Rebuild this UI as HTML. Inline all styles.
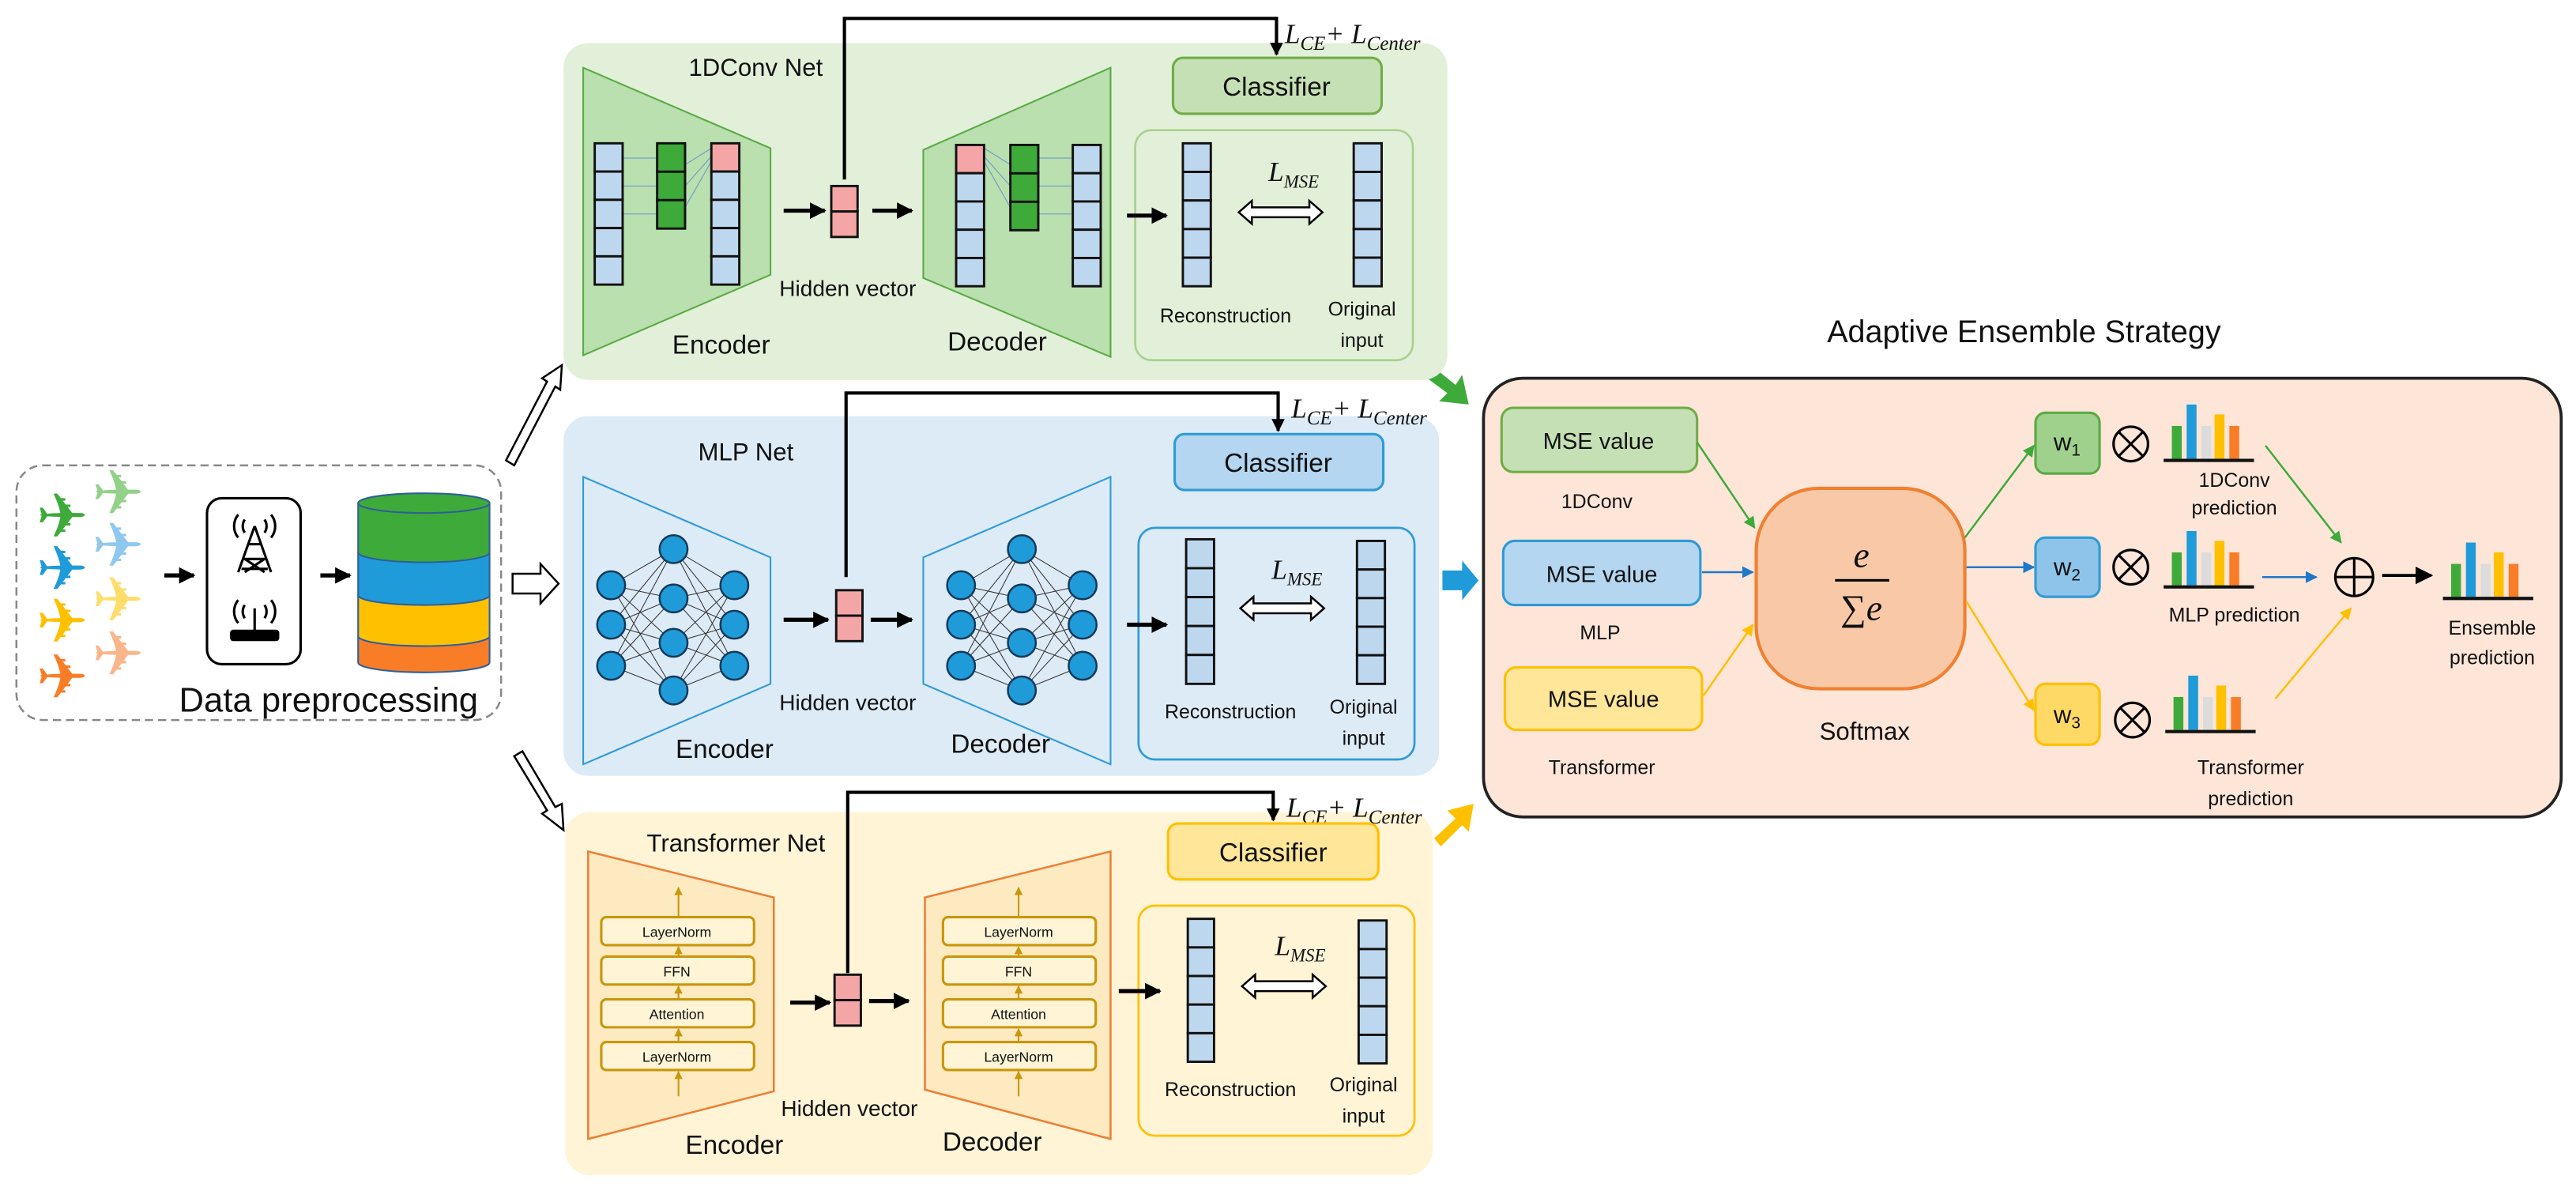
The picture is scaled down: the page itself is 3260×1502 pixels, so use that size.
<!DOCTYPE html>
<html><head><meta charset="utf-8"><style>
html,body{margin:0;padding:0;background:#fff}
svg{display:block}
text{font-family:"Liberation Sans","DejaVu Sans",sans-serif;fill:#111}
.it{font-family:"Liberation Serif",serif;font-style:italic}
</style></head><body>
<svg width="3260" height="1502" viewBox="0 0 1568 722" xmlns="http://www.w3.org/2000/svg">
<defs>
<marker id="ab" viewBox="0 0 10 10" refX="9" refY="5" markerWidth="4" markerHeight="4" orient="auto"><path d="M0,0L10,5L0,10z" fill="#000"/></marker>
<marker id="ag" viewBox="0 0 10 10" refX="9" refY="5" markerWidth="6" markerHeight="6" orient="auto"><path d="M0,0L10,5L0,10z" fill="#3daa3a"/></marker>
<marker id="au" viewBox="0 0 10 10" refX="9" refY="5" markerWidth="6" markerHeight="6" orient="auto"><path d="M0,0L10,5L0,10z" fill="#1f77c9"/></marker>
<marker id="ay" viewBox="0 0 10 10" refX="9" refY="5" markerWidth="6" markerHeight="6" orient="auto"><path d="M0,0L10,5L0,10z" fill="#ffc000"/></marker>
<marker id="ak" viewBox="0 0 10 10" refX="9" refY="5" markerWidth="6" markerHeight="6" orient="auto"><path d="M0,0L10,5L0,10z" fill="#000"/></marker>
<marker id="ao" viewBox="0 0 10 10" refX="9" refY="5" markerWidth="5" markerHeight="5" orient="auto"><path d="M0,0L10,5L0,10z" fill="#c9960c"/></marker>
</defs>

<!-- Data preprocessing -->
<rect x="10" y="283" width="295" height="155" rx="16" fill="none" stroke="#888" stroke-width="1.2" stroke-dasharray="5,3"/>
<g font-size="38">
<text x="22" y="327" style="fill:#3daa3a">✈</text>
<text x="22" y="359" style="fill:#1f9bd9">✈</text>
<text x="22" y="391" style="fill:#ffc000">✈</text>
<text x="22" y="425" style="fill:#f97d27">✈</text>
<text x="56" y="313" style="fill:#93d18a">✈</text>
<text x="56" y="345" style="fill:#8fc8ee">✈</text>
<text x="56" y="378" style="fill:#ffdd6b">✈</text>
<text x="56" y="411" style="fill:#fbb58a">✈</text>
</g>
<line x1="100" y1="350" x2="118" y2="350" stroke="#000" stroke-width="2.5" marker-end="url(#ab)"/>
<rect x="126" y="303" width="57" height="101" rx="9" fill="#fff" stroke="#000" stroke-width="1.5"/>
<g stroke="#000" stroke-width="1.5" fill="none">
<path d="M155,320 L145,348 M155,320 L165,348 M148,340 L162,340 M151,331 L159,331 M147,346 L163,346 M149,340 L161,348 M161,340 L149,348"/>
<path d="M149,316 a7,7 0 0 0 0,8 M161,316 a7,7 0 0 1 0,8 M145,313 a11,11 0 0 0 0,14 M165,313 a11,11 0 0 1 0,14"/>
<path d="M155,370 L155,384 M149,368 a7,7 0 0 0 0,8 M161,368 a7,7 0 0 1 0,8 M145,365 a11,11 0 0 0 0,14 M165,365 a11,11 0 0 1 0,14"/>
</g>
<rect x="140" y="383" width="30" height="7" rx="2" fill="#000"/>
<line x1="195" y1="350" x2="213" y2="350" stroke="#000" stroke-width="2.5" marker-end="url(#ab)"/>
<!-- database -->
<path d="M218,387 L218,403 A40,6 0 0 0 298,403 L298,387 z" fill="#f97d27" stroke="#2e5f9a" stroke-width="1"/>
<path d="M218,362 L218,387 A40,6 0 0 0 298,387 L298,362 z" fill="#ffc000" stroke="#2e5f9a" stroke-width="1"/>
<path d="M218,336 L218,362 A40,6 0 0 0 298,362 L298,336 z" fill="#1f9bd9" stroke="#2e5f9a" stroke-width="1"/>
<path d="M218,306 L218,336 A40,6 0 0 0 298,336 L298,306 z" fill="#3daa3a" stroke="#2e5f9a" stroke-width="1"/>
<ellipse cx="258" cy="306" rx="40" ry="6" fill="#3daa3a" stroke="#2e5f9a" stroke-width="1"/>
<text x="200" y="433" font-size="21" text-anchor="middle">Data preprocessing</text>

<!-- hollow arrows -->
<g fill="#fff" stroke="#000" stroke-width="1.2">
<path d="M308,280 L333,232 L330,230 L342,222 L341,237 L338,235 L313,283 z"/>
<path d="M312,349 L329,349 L329,343 L340,355 L329,367 L329,361 L312,361 z"/>
<path d="M313,460 L333,493 L330,495 L343,505 L342,489 L338,491 L318,457 z"/>
</g>

<!-- colored arrows to ensemble -->
<path d="M871,222 L886,234 L890,228 L894,246 L876,244 L881,239 L866,228 z" fill="#3daa3a"/>
<path d="M878,347 L890,347 L890,341 L900,353 L890,365 L890,359 L878,359 z" fill="#1f9bd9"/>
<path d="M873,510 L886,498 L881,493 L897,489 L894,506 L890,502 L877,515 z" fill="#ffc000"/>

<!-- ===== 1DConv panel ===== -->
<rect x="343" y="26" width="538" height="205" rx="15" fill="#e2f0d9"/>
<text x="460" y="46" font-size="15" text-anchor="middle">1DConv Net</text>
<polygon points="355,41 469,90 469,167 355,216" fill="#b9e0ae" stroke="#5aaa44" stroke-width="1"/>
<polygon points="562,91 676,41 676,217 562,169" fill="#b9e0ae" stroke="#5aaa44" stroke-width="1"/>
<g stroke="#7aa0c8" stroke-width="0.6">
<line x1="379" y1="96" x2="400" y2="96"/><line x1="379" y1="113" x2="400" y2="113"/><line x1="379" y1="130" x2="400" y2="130"/>
<line x1="417" y1="100" x2="433" y2="90"/><line x1="417" y1="113" x2="433" y2="95"/><line x1="417" y1="126" x2="433" y2="98"/>
<line x1="599" y1="90" x2="615" y2="100"/><line x1="599" y1="95" x2="615" y2="113"/><line x1="599" y1="98" x2="615" y2="126"/>
<line x1="632" y1="96" x2="653" y2="96"/><line x1="632" y1="113" x2="653" y2="113"/><line x1="632" y1="130" x2="653" y2="130"/>
</g>
<g stroke="#111" stroke-width="1.4">
<g fill="#bdd7ee"><rect x="362" y="87" width="17" height="17.2"/><rect x="362" y="104.2" width="17" height="17.2"/><rect x="362" y="121.4" width="17" height="17.2"/><rect x="362" y="138.6" width="17" height="17.2"/><rect x="362" y="155.8" width="17" height="17.2"/></g>
<g fill="#3daa3a"><rect x="400" y="87" width="17" height="17.3"/><rect x="400" y="104.3" width="17" height="17.3"/><rect x="400" y="121.6" width="17" height="17.3"/></g>
<g fill="#bdd7ee"><rect x="433" y="87" width="17" height="17.2" fill="#f4a6a6"/><rect x="433" y="104.2" width="17" height="17.2"/><rect x="433" y="121.4" width="17" height="17.2"/><rect x="433" y="138.6" width="17" height="17.2"/><rect x="433" y="155.8" width="17" height="17.2"/></g>
<g fill="#bdd7ee"><rect x="582" y="88" width="17" height="17.2" fill="#f4a6a6"/><rect x="582" y="105.2" width="17" height="17.2"/><rect x="582" y="122.4" width="17" height="17.2"/><rect x="582" y="139.6" width="17" height="17.2"/><rect x="582" y="156.8" width="17" height="17.2"/></g>
<g fill="#3daa3a"><rect x="615" y="88" width="17" height="17.3"/><rect x="615" y="105.3" width="17" height="17.3"/><rect x="615" y="122.6" width="17" height="17.3"/></g>
<g fill="#bdd7ee"><rect x="653" y="88" width="17" height="17.2"/><rect x="653" y="105.2" width="17" height="17.2"/><rect x="653" y="122.4" width="17" height="17.2"/><rect x="653" y="139.6" width="17" height="17.2"/><rect x="653" y="156.8" width="17" height="17.2"/></g>
<g fill="#f4a6a6"><rect x="506" y="113" width="16" height="15.5"/><rect x="506" y="128.5" width="16" height="15.5"/></g>
<g fill="#bdd7ee"><rect x="720" y="87" width="17" height="17.4"/><rect x="720" y="104.4" width="17" height="17.4"/><rect x="720" y="121.8" width="17" height="17.4"/><rect x="720" y="139.2" width="17" height="17.4"/><rect x="720" y="156.6" width="17" height="17.4"/></g>
<g fill="#bdd7ee"><rect x="824" y="87" width="17" height="17.4"/><rect x="824" y="104.4" width="17" height="17.4"/><rect x="824" y="121.8" width="17" height="17.4"/><rect x="824" y="139.2" width="17" height="17.4"/><rect x="824" y="156.6" width="17" height="17.4"/></g>
</g>
<line x1="477" y1="128" x2="502" y2="128" stroke="#000" stroke-width="2.5" marker-end="url(#ab)"/>
<line x1="531" y1="128" x2="555" y2="128" stroke="#000" stroke-width="2.5" marker-end="url(#ab)"/>
<text x="516" y="180" font-size="13.5" text-anchor="middle">Hidden vector</text>
<text x="439" y="215" font-size="16" text-anchor="middle">Encoder</text>
<text x="607" y="213" font-size="16" text-anchor="middle">Decoder</text>
<polyline points="514,109 514,11 777,11 777,33" fill="none" stroke="#000" stroke-width="2" marker-end="url(#ab)"/>
<text x="782" y="26" font-size="17" class="it">L<tspan font-size="12" dy="4">CE</tspan><tspan dy="-4">+ L</tspan><tspan font-size="12" dy="4">Center</tspan></text>
<rect x="714" y="35" width="127" height="34" rx="6" fill="#c5e0b4" stroke="#70ad47" stroke-width="1.5"/>
<text x="777" y="58" font-size="16" text-anchor="middle">Classifier</text>
<rect x="691" y="79" width="169" height="140" rx="10" fill="none" stroke="#a9d18e" stroke-width="1.3"/>
<line x1="686" y1="131" x2="710" y2="131" stroke="#000" stroke-width="2.5" marker-end="url(#ab)"/>
<text x="772" y="110" font-size="17" class="it">L<tspan font-size="11" dy="4">MSE</tspan></text>
<path d="M754,129 L762,122 L762,126 L797,126 L797,122 L805,129 L797,136 L797,132 L762,132 L762,136 z" fill="#fff" stroke="#000" stroke-width="1.2"/>
<text x="746" y="196" font-size="12" text-anchor="middle">Reconstruction</text>
<text x="829" y="192" font-size="12" text-anchor="middle">Original</text>
<text x="829" y="211" font-size="12" text-anchor="middle">input</text>

<!-- ===== MLP panel ===== -->
<rect x="343" y="253" width="533" height="219" rx="15" fill="#ddebf7"/>
<text x="454" y="280" font-size="15" text-anchor="middle">MLP Net</text>
<polygon points="355,290 469,339 469,416 355,465" fill="#ddebf7" stroke="#2e9bd6" stroke-width="1"/>
<polygon points="562,339 676,290 676,465 562,416" fill="#ddebf7" stroke="#2e9bd6" stroke-width="1"/>
<g stroke="#333" stroke-width="0.5">
<path d="M372,356L410,334M372,356L410,364M372,356L410,391M372,356L410,420M372,380L410,334M372,380L410,364M372,380L410,391M372,380L410,420M372,405L410,334M372,405L410,364M372,405L410,391M372,405L410,420"/>
<path d="M447,356L410,334M447,356L410,364M447,356L410,391M447,356L410,420M447,380L410,334M447,380L410,364M447,380L410,391M447,380L410,420M447,405L410,334M447,405L410,364M447,405L410,391M447,405L410,420"/>
<path d="M585,356L622,334M585,356L622,364M585,356L622,391M585,356L622,420M585,380L622,334M585,380L622,364M585,380L622,391M585,380L622,420M585,405L622,334M585,405L622,364M585,405L622,391M585,405L622,420"/>
<path d="M659,356L622,334M659,356L622,364M659,356L622,391M659,356L622,420M659,380L622,334M659,380L622,364M659,380L622,391M659,380L622,420M659,405L622,334M659,405L622,364M659,405L622,391M659,405L622,420"/>
</g>
<g fill="#1f9bd9" stroke="#153a5a" stroke-width="1.2">
<circle cx="372" cy="356" r="8.5"/><circle cx="372" cy="380" r="8.5"/><circle cx="372" cy="405" r="8.5"/>
<circle cx="410" cy="334" r="8.5"/><circle cx="410" cy="364" r="8.5"/><circle cx="410" cy="391" r="8.5"/><circle cx="410" cy="420" r="8.5"/>
<circle cx="447" cy="356" r="8.5"/><circle cx="447" cy="380" r="8.5"/><circle cx="447" cy="405" r="8.5"/>
<circle cx="585" cy="356" r="8.5"/><circle cx="585" cy="380" r="8.5"/><circle cx="585" cy="405" r="8.5"/>
<circle cx="622" cy="334" r="8.5"/><circle cx="622" cy="364" r="8.5"/><circle cx="622" cy="391" r="8.5"/><circle cx="622" cy="420" r="8.5"/>
<circle cx="659" cy="356" r="8.5"/><circle cx="659" cy="380" r="8.5"/><circle cx="659" cy="405" r="8.5"/>
</g>
<g stroke="#111" stroke-width="1.4">
<g fill="#f4a6a6"><rect x="509" y="359" width="16" height="15.5"/><rect x="509" y="374.5" width="16" height="15.5"/></g>
<g fill="#bdd7ee"><rect x="722" y="328" width="17" height="17.6"/><rect x="722" y="345.6" width="17" height="17.6"/><rect x="722" y="363.2" width="17" height="17.6"/><rect x="722" y="380.8" width="17" height="17.6"/><rect x="722" y="398.4" width="17" height="17.6"/></g>
<g fill="#bdd7ee"><rect x="826" y="329" width="17" height="17.4"/><rect x="826" y="346.4" width="17" height="17.4"/><rect x="826" y="363.8" width="17" height="17.4"/><rect x="826" y="381.2" width="17" height="17.4"/><rect x="826" y="398.6" width="17" height="17.4"/></g>
</g>
<line x1="477" y1="377" x2="504" y2="377" stroke="#000" stroke-width="2.5" marker-end="url(#ab)"/>
<line x1="530" y1="377" x2="555" y2="377" stroke="#000" stroke-width="2.5" marker-end="url(#ab)"/>
<text x="516" y="432" font-size="13.5" text-anchor="middle">Hidden vector</text>
<text x="441" y="461" font-size="16" text-anchor="middle">Encoder</text>
<text x="609" y="458" font-size="16" text-anchor="middle">Decoder</text>
<polyline points="515,351 515,239 778,239 778,262" fill="none" stroke="#000" stroke-width="2" marker-end="url(#ab)"/>
<text x="786" y="254" font-size="17" class="it">L<tspan font-size="12" dy="4">CE</tspan><tspan dy="-4">+ L</tspan><tspan font-size="12" dy="4">Center</tspan></text>
<rect x="715" y="264" width="127" height="34" rx="6" fill="#b4d6f0" stroke="#2e9bd6" stroke-width="1.5"/>
<text x="778" y="287" font-size="16" text-anchor="middle">Classifier</text>
<rect x="693" y="321" width="168" height="141" rx="10" fill="none" stroke="#2e9bd6" stroke-width="1.3"/>
<line x1="686" y1="380" x2="710" y2="380" stroke="#000" stroke-width="2.5" marker-end="url(#ab)"/>
<text x="774" y="352" font-size="17" class="it">L<tspan font-size="11" dy="4">MSE</tspan></text>
<path d="M755,370 L763,363 L763,367 L798,367 L798,363 L806,370 L798,377 L798,373 L763,373 L763,377 z" fill="#fff" stroke="#000" stroke-width="1.2"/>
<text x="749" y="437" font-size="12" text-anchor="middle">Reconstruction</text>
<text x="830" y="434" font-size="12" text-anchor="middle">Original</text>
<text x="830" y="453" font-size="12" text-anchor="middle">input</text>

<!-- ===== Transformer panel ===== -->
<rect x="344" y="494" width="528" height="221" rx="15" fill="#fff4d6"/>
<text x="448" y="518" font-size="15" text-anchor="middle">Transformer Net</text>
<polygon points="358,518 471,546 471,664 358,693" fill="#fdeac0" stroke="#ed7d31" stroke-width="1.2"/>
<polygon points="563,546 676,518 676,693 563,663" fill="#fdeac0" stroke="#ed7d31" stroke-width="1.2"/>
<g stroke="#c9960c" stroke-width="1">
<line x1="413" y1="667" x2="413" y2="652" marker-end="url(#ao)"/><line x1="413" y1="634" x2="413" y2="626" marker-end="url(#ao)"/>
<line x1="413" y1="608" x2="413" y2="600" marker-end="url(#ao)"/><line x1="413" y1="582" x2="413" y2="576" marker-end="url(#ao)"/>
<line x1="413" y1="558" x2="413" y2="540" marker-end="url(#ao)"/>
<line x1="620" y1="667" x2="620" y2="652" marker-end="url(#ao)"/><line x1="620" y1="634" x2="620" y2="626" marker-end="url(#ao)"/>
<line x1="620" y1="608" x2="620" y2="600" marker-end="url(#ao)"/><line x1="620" y1="582" x2="620" y2="576" marker-end="url(#ao)"/>
<line x1="620" y1="558" x2="620" y2="540" marker-end="url(#ao)"/>
</g>
<g fill="#fff4d6" stroke="#c9960c" stroke-width="1.5">
<rect x="366" y="558" width="93" height="17" rx="3"/><rect x="366" y="582" width="93" height="17" rx="3"/><rect x="366" y="608" width="93" height="17" rx="3"/><rect x="366" y="634" width="93" height="17" rx="3"/>
<rect x="574" y="558" width="93" height="17" rx="3"/><rect x="574" y="582" width="93" height="17" rx="3"/><rect x="574" y="608" width="93" height="17" rx="3"/><rect x="574" y="634" width="93" height="17" rx="3"/>
</g>
<g font-size="8.5" text-anchor="middle">
<text x="412" y="570">LayerNorm</text><text x="412" y="594">FFN</text><text x="412" y="620">Attention</text><text x="412" y="646">LayerNorm</text>
<text x="620" y="570">LayerNorm</text><text x="620" y="594">FFN</text><text x="620" y="620">Attention</text><text x="620" y="646">LayerNorm</text>
</g>
<g stroke="#111" stroke-width="1.4">
<g fill="#f4a6a6"><rect x="508" y="593" width="16" height="15.5"/><rect x="508" y="608.5" width="16" height="15.5"/></g>
<g fill="#bdd7ee"><rect x="723" y="559" width="16" height="17.4"/><rect x="723" y="576.4" width="16" height="17.4"/><rect x="723" y="593.8" width="16" height="17.4"/><rect x="723" y="611.2" width="16" height="17.4"/><rect x="723" y="628.6" width="16" height="17.4"/></g>
<g fill="#bdd7ee"><rect x="827" y="560" width="17" height="17.4"/><rect x="827" y="577.4" width="17" height="17.4"/><rect x="827" y="594.8" width="17" height="17.4"/><rect x="827" y="612.2" width="17" height="17.4"/><rect x="827" y="629.6" width="17" height="17.4"/></g>
</g>
<line x1="481" y1="610" x2="505" y2="610" stroke="#000" stroke-width="2.5" marker-end="url(#ab)"/>
<line x1="529" y1="609" x2="553" y2="609" stroke="#000" stroke-width="2.5" marker-end="url(#ab)"/>
<text x="517" y="679" font-size="13.5" text-anchor="middle">Hidden vector</text>
<text x="447" y="702" font-size="16" text-anchor="middle">Encoder</text>
<text x="604" y="700" font-size="16" text-anchor="middle">Decoder</text>
<polyline points="516,592 516,482 775,482 775,499" fill="none" stroke="#000" stroke-width="2" marker-end="url(#ab)"/>
<text x="783" y="497" font-size="17" class="it">L<tspan font-size="12" dy="4">CE</tspan><tspan dy="-4">+ L</tspan><tspan font-size="12" dy="4">Center</tspan></text>
<rect x="711" y="501" width="128" height="34" rx="6" fill="#ffe699" stroke="#ffc000" stroke-width="1.5"/>
<text x="775" y="524" font-size="16" text-anchor="middle">Classifier</text>
<rect x="693" y="551" width="168" height="140" rx="10" fill="none" stroke="#ffc000" stroke-width="1.3"/>
<line x1="681" y1="603" x2="706" y2="603" stroke="#000" stroke-width="2.5" marker-end="url(#ab)"/>
<text x="776" y="581" font-size="17" class="it">L<tspan font-size="11" dy="4">MSE</tspan></text>
<path d="M756,600 L764,593 L764,597 L799,597 L799,593 L807,600 L799,607 L799,603 L764,603 L764,607 z" fill="#fff" stroke="#000" stroke-width="1.2"/>
<text x="749" y="667" font-size="12" text-anchor="middle">Reconstruction</text>
<text x="830" y="664" font-size="12" text-anchor="middle">Original</text>
<text x="830" y="683" font-size="12" text-anchor="middle">input</text>

<!-- ===== Ensemble ===== -->
<text x="1232" y="208" font-size="19" text-anchor="middle">Adaptive Ensemble Strategy</text>
<rect x="903" y="230" width="656" height="267" rx="24" fill="#fde5d8" stroke="#222" stroke-width="1.8"/>
<rect x="914" y="248" width="119" height="39" rx="7" fill="#c5e0b4" stroke="#70ad47" stroke-width="1.5"/>
<rect x="915" y="329" width="120" height="39" rx="7" fill="#b4d6f0" stroke="#2e9bd6" stroke-width="1.5"/>
<rect x="916" y="406" width="120" height="38" rx="7" fill="#ffe699" stroke="#ffc000" stroke-width="1.5"/>
<g font-size="14" text-anchor="middle"><text x="973" y="273">MSE value</text><text x="975" y="354">MSE value</text><text x="976" y="430">MSE value</text></g>
<g font-size="12" text-anchor="middle"><text x="972" y="309">1DConv</text><text x="974" y="389">MLP</text><text x="975" y="471">Transformer</text></g>
<rect x="1069" y="297" width="127" height="122" rx="38" fill="#f9c9a7" stroke="#f08030" stroke-width="2"/>
<text x="1133" y="345" font-size="22" class="it" text-anchor="middle">e</text>
<line x1="1117" y1="353" x2="1150" y2="353" stroke="#000" stroke-width="1.5"/>
<text x="1133" y="377" font-size="22" text-anchor="middle" style="font-family:'Liberation Serif',serif">∑<tspan class="it">e</tspan></text>
<text x="1135" y="450" font-size="15" text-anchor="middle">Softmax</text>
<line x1="1033" y1="269" x2="1068" y2="321" stroke="#3daa3a" stroke-width="1.2" marker-end="url(#ag)"/>
<line x1="1036" y1="348" x2="1067" y2="348" stroke="#1f77c9" stroke-width="1.2" marker-end="url(#au)"/>
<line x1="1037" y1="423" x2="1067" y2="380" stroke="#ffc000" stroke-width="1.2" marker-end="url(#ay)"/>
<line x1="1196" y1="327" x2="1238" y2="271" stroke="#3daa3a" stroke-width="1.2" marker-end="url(#ag)"/>
<line x1="1197" y1="345" x2="1238" y2="345" stroke="#1f77c9" stroke-width="1.2" marker-end="url(#au)"/>
<line x1="1197" y1="366" x2="1238" y2="432" stroke="#ffc000" stroke-width="1.2" marker-end="url(#ay)"/>
<rect x="1239" y="251" width="39" height="37" rx="6" fill="#9fd18c" stroke="#5aaa44" stroke-width="1.5"/>
<rect x="1239" y="327" width="39" height="36" rx="6" fill="#8fc4ea" stroke="#2e9bd6" stroke-width="1.5"/>
<rect x="1239" y="416" width="39" height="37" rx="6" fill="#ffd966" stroke="#ffc000" stroke-width="1.5"/>
<g font-size="15" style="font-family:'Liberation Serif',serif"><text x="1250" y="274">w<tspan font-size="10" dy="3">1</tspan></text><text x="1250" y="350">w<tspan font-size="10" dy="3">2</tspan></text><text x="1250" y="440">w<tspan font-size="10" dy="3">3</tspan></text></g>
<g fill="none" stroke="#000" stroke-width="1.5">
<circle cx="1297" cy="270" r="10.5"/><path d="M1289.6,262.6L1304.4,277.4M1304.4,262.6L1289.6,277.4"/>
<circle cx="1297" cy="345" r="10.5"/><path d="M1289.6,337.6L1304.4,352.4M1304.4,337.6L1289.6,352.4"/>
<circle cx="1298" cy="438" r="10.5"/><path d="M1290.6,430.6L1305.4,445.4M1305.4,430.6L1290.6,445.4"/>
<circle cx="1433" cy="351" r="11.5"/><path d="M1421.5,351H1444.5M1433,339.5V362.5"/>
</g>
<g>
<rect x="1322" y="259" width="6" height="20" fill="#3daa3a"/><rect x="1331" y="246" width="6" height="33" fill="#1f9bd9"/><rect x="1340" y="259" width="6" height="20" fill="#dcdcdc"/><rect x="1348" y="252" width="6" height="27" fill="#ffc000"/><rect x="1357" y="259" width="6" height="20" fill="#f97d27"/>
<line x1="1317" y1="280" x2="1372" y2="280" stroke="#111" stroke-width="2"/>
</g>
<g transform="translate(0,77)"><rect x="1322" y="259" width="6" height="20" fill="#3daa3a"/><rect x="1331" y="246" width="6" height="33" fill="#1f9bd9"/><rect x="1340" y="259" width="6" height="20" fill="#dcdcdc"/><rect x="1348" y="252" width="6" height="27" fill="#ffc000"/><rect x="1357" y="259" width="6" height="20" fill="#f97d27"/>
<line x1="1317" y1="280" x2="1372" y2="280" stroke="#111" stroke-width="2"/></g>
<g transform="translate(1,165)"><rect x="1322" y="259" width="6" height="20" fill="#3daa3a"/><rect x="1331" y="246" width="6" height="33" fill="#1f9bd9"/><rect x="1340" y="259" width="6" height="20" fill="#dcdcdc"/><rect x="1348" y="252" width="6" height="27" fill="#ffc000"/><rect x="1357" y="259" width="6" height="20" fill="#f97d27"/>
<line x1="1317" y1="280" x2="1372" y2="280" stroke="#111" stroke-width="2"/></g>
<g transform="translate(170,84)"><rect x="1322" y="259" width="6" height="20" fill="#3daa3a"/><rect x="1331" y="246" width="6" height="33" fill="#1f9bd9"/><rect x="1340" y="259" width="6" height="20" fill="#dcdcdc"/><rect x="1348" y="252" width="6" height="27" fill="#ffc000"/><rect x="1357" y="259" width="6" height="20" fill="#f97d27"/>
<line x1="1317" y1="280" x2="1372" y2="280" stroke="#111" stroke-width="2"/></g>
<g font-size="12" text-anchor="middle">
<text x="1360" y="296">1DConv</text><text x="1360" y="313">prediction</text>
<text x="1360" y="378">MLP prediction</text>
<text x="1370" y="471">Transformer</text><text x="1370" y="490">prediction</text>
<text x="1517" y="386">Ensemble</text><text x="1517" y="404">prediction</text>
</g>
<line x1="1379" y1="271" x2="1425" y2="330" stroke="#3daa3a" stroke-width="1.2" marker-end="url(#ag)"/>
<line x1="1377" y1="351" x2="1410" y2="351" stroke="#1f77c9" stroke-width="1.2" marker-end="url(#au)"/>
<line x1="1385" y1="425" x2="1431" y2="370" stroke="#ffc000" stroke-width="1.2" marker-end="url(#ay)"/>
<line x1="1450" y1="350" x2="1480" y2="350" stroke="#000" stroke-width="1.8" marker-end="url(#ak)"/>
</svg>
</body></html>
